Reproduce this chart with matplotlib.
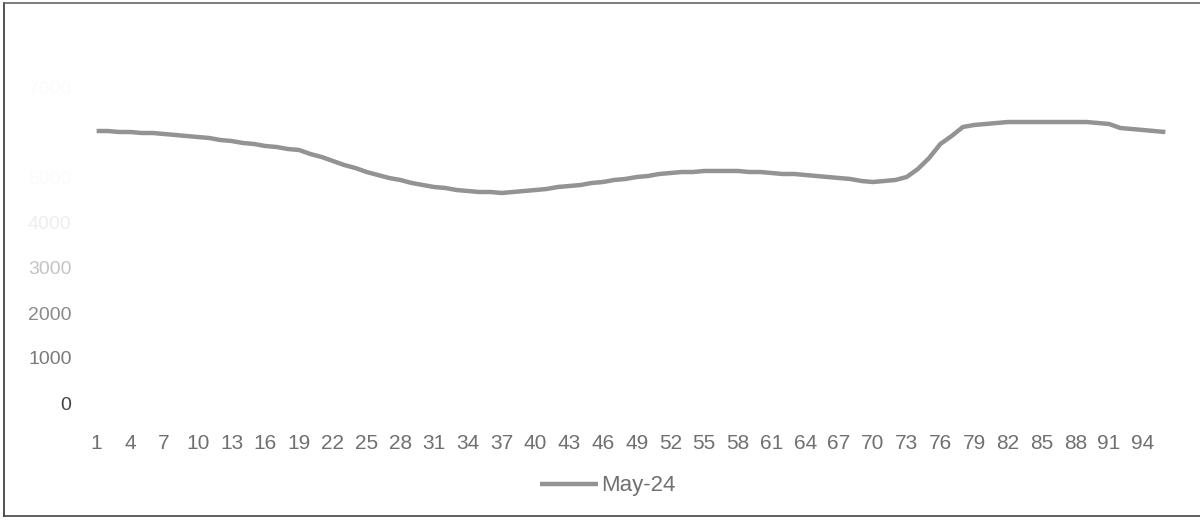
import numpy as np
import matplotlib.pyplot as plt
from matplotlib.lines import Line2D

plt.rcParams['font.family'] = ['Liberation Sans', 'DejaVu Sans']

# Serie "May-24" (96 intervalos)
may_24 = [
    6044, 6044, 6022, 6022, 6000, 6000, 5978, 5956, 5933, 5911,
    5889, 5844, 5822, 5778, 5756, 5711, 5689, 5644, 5622, 5533,
    5467, 5378, 5289, 5222, 5133, 5067, 5000, 4956, 4889, 4844,
    4800, 4778, 4733, 4711, 4689, 4689, 4667, 4689, 4711, 4733,
    4756, 4800, 4822, 4844, 4889, 4911, 4956, 4978, 5022, 5044,
    5089, 5111, 5133, 5133, 5156, 5156, 5156, 5156, 5133, 5133,
    5111, 5089, 5089, 5067, 5044, 5022, 5000, 4978, 4933, 4911,
    4933, 4956, 5022, 5200, 5444, 5756, 5933, 6133, 6178, 6200,
    6222, 6244, 6244, 6244, 6244, 6244, 6244, 6244, 6244, 6222,
    6200, 6111, 6089, 6067, 6044, 6022,
]
periods = list(range(1, len(may_24) + 1))
y_ticks = [0, 1000, 2000, 3000, 4000, 5000, 6000, 7000, 8000]
# etiquetas del eje Y: se desvanecen en el escaneo
y_tick_colors = ['#444444', '#7a7a7a', '#8a8a8a', '#c4c4c4', '#eeeeee',
                 '#fbfbfb', '#ffffff', '#fbfbfb', '#ffffff']

fig = plt.figure(figsize=(12, 5.22), dpi=100)
ax = fig.add_axes([91 / 1200, 1 - 403 / 522, 1080 / 1200, 360 / 522])

ax.plot(periods, may_24, color='#939393', linewidth=3.2, label='May-24',
        solid_capstyle='butt')

ax.set_xlim(0.5, len(may_24) + 0.5)
ax.set_ylim(0, 8000)
ax.set_xticks(periods[::3])
ax.set_xticklabels([str(p) for p in periods[::3]], fontsize=15, color='#707070')
ax.set_yticks(y_ticks)
ax.set_yticklabels([str(v) for v in y_ticks], fontsize=14)
for lbl, c in zip(ax.get_yticklabels(), y_tick_colors):
    lbl.set_color(c)

ax.tick_params(axis='x', length=0, pad=22)
ax.tick_params(axis='y', length=0, pad=14)
for s in ax.spines.values():
    s.set_visible(False)

fig.legend(loc='center', bbox_to_anchor=(608 / 1200, 1 - 486 / 522),
           frameon=False, fontsize=16, handlelength=2.6, handletextpad=0.15,
           labelcolor='#707070')

# marco exterior del gráfico
for xs, ys, c in [([0.003, 0.003], [0.012, 0.994], '#333333'),
                  ([0.003, 1.0], [0.994, 0.994], '#666666'),
                  ([0.003, 1.0], [0.012, 0.012], '#444444')]:
    fig.add_artist(Line2D(xs, ys, color=c, linewidth=1.2,
                          transform=fig.transFigure))

fig.savefig('out.png', dpi=100)
